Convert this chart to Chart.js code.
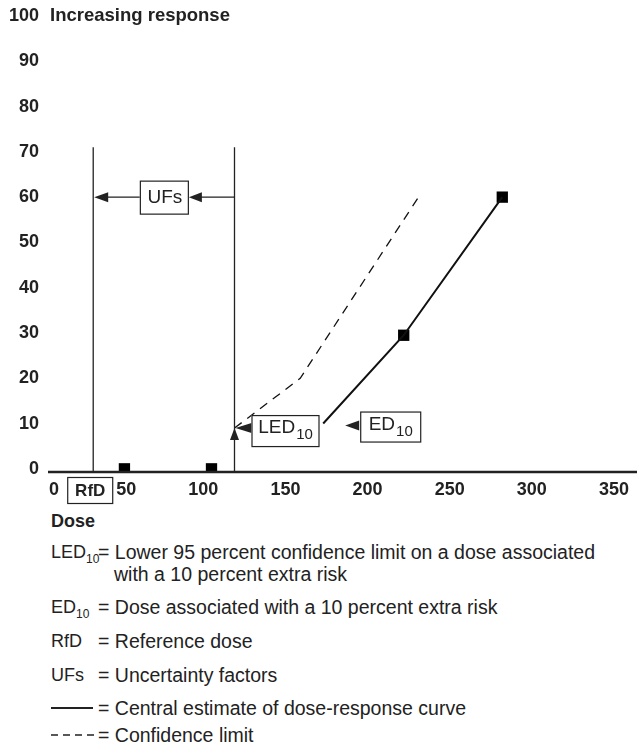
<!DOCTYPE html>
<html>
<head>
<meta charset="utf-8">
<title>Dose-response: RfD derivation</title>
<script src="https://cdn.jsdelivr.net/npm/chart.js"></script>
<style>
  body { margin: 0; background: #fff; }
  #wrap { position: relative; width: 637px; height: 744px; overflow: hidden;
          font-family: "Liberation Sans", Arial, sans-serif; color: #222; }
  #chart { position: absolute; left: 0; top: 0; }
  .dose { position: absolute; left: 51px; top: 510px; font-weight: bold; font-size: 18px; line-height: 22px; }
  .row { position: absolute; left: 51px; font-size: 19.5px; line-height: 22px; white-space: nowrap; }
  .row .term { position: absolute; left: 0; top: 0; font-size: 18px; }
  .row .def { position: absolute; left: 47px; top: 0; padding-left: 16px; text-indent: -16px; }
  .row sub { font-size: 12px; vertical-align: -5px; line-height: 0; }
  .row svg { position: absolute; left: 0; top: 0; }
</style>
</head>
<body>
<div id="wrap">
  <canvas id="chart" width="637" height="510"></canvas>
  <div class="dose">Dose</div>
  <div class="row" style="top:541px"><span class="term">LED<sub>10</sub></span><span class="def">= Lower 95 percent confidence limit on a dose associated<br>with a 10 percent extra risk</span></div>
  <div class="row" style="top:596px"><span class="term">ED<sub>10</sub></span><span class="def">= Dose associated with a 10 percent extra risk</span></div>
  <div class="row" style="top:630px"><span class="term">RfD</span><span class="def">= Reference dose</span></div>
  <div class="row" style="top:664px"><span class="term">UFs</span><span class="def">= Uncertainty factors</span></div>
  <div class="row" style="top:697px"><svg width="44" height="22"><line x1="0" y1="11" x2="42" y2="11" stroke="#222" stroke-width="2"/></svg><span class="def">= Central estimate of dose-response curve</span></div>
  <div class="row" style="top:724px"><svg width="44" height="22"><line x1="0" y1="11" x2="43" y2="11" stroke="#222" stroke-width="1.3" stroke-dasharray="7,5"/></svg><span class="def">= Confidence limit</span></div>
</div>
<script>
// axis ticks
const xTicks = [0, 50, 100, 150, 200, 250, 300, 350];
const yTicks = [0, 10, 20, 30, 40, 50, 60, 70, 80, 90, 100];

// observed data (squares)
const observedDose = [52, 105, 222, 282];
const observedResponse = [0, 0, 29.5, 60];

// central estimate of the dose-response curve
const centralDose = [173, 222, 282];
const centralResponse = [10, 29.5, 60];

// lower confidence limit curve
const limitDose = [119, 159, 231];
const limitResponse = [9, 20, 60];

// reference points
const rfdDose = 33;
const ledDose = 119;
const ledResponse = 9;
const edDose = 173;
const edResponse = 10;
const ufResponse = 60;
const guideTop = 71;

const INK = '#222';
const FONT = '"Liberation Sans", Arial, sans-serif';

function toPoints(xs, ys) {
  return xs.map((x, i) => ({ x: x, y: ys[i] }));
}

function head(ctx, x, y, dir, len, half) {
  ctx.beginPath();
  ctx.moveTo(x, y);
  if (dir === 'left') {
    ctx.lineTo(x + len, y - half);
    ctx.lineTo(x + len, y + half);
  } else {
    ctx.lineTo(x - half, y + len);
    ctx.lineTo(x + half, y + len);
  }
  ctx.closePath();
  ctx.fill();
}

function box(ctx, x, y, w, h) {
  ctx.fillStyle = '#fff';
  ctx.fillRect(x, y, w, h);
  ctx.lineWidth = 1.2;
  ctx.strokeStyle = INK;
  ctx.strokeRect(x + 0.5, y + 0.5, w, h);
  ctx.fillStyle = INK;
}

// text with a subscript, centred on cx, cy
function label(ctx, main, sub, cx, cy, size, weight) {
  ctx.font = (weight || '') + ' ' + size + 'px ' + FONT;
  const w1 = ctx.measureText(main).width;
  let w2 = 0;
  const subSize = Math.round(size * 0.8);
  if (sub) {
    ctx.font = subSize + 'px ' + FONT;
    w2 = ctx.measureText(sub).width;
  }
  const left = cx - (w1 + w2) / 2;
  ctx.textAlign = 'left';
  ctx.textBaseline = 'middle';
  ctx.font = (weight || '') + ' ' + size + 'px ' + FONT;
  ctx.fillText(main, left, cy - (sub ? 2 : 0));
  if (sub) {
    ctx.font = subSize + 'px ' + FONT;
    ctx.fillText(sub, left + w1 + 1, cy + 5);
  }
}

const annotations = {
  id: 'annotations',
  afterDatasetsDraw(chart) {
    const ctx = chart.ctx;
    const xs = chart.scales.x;
    const ys = chart.scales.y;
    const bottom = chart.chartArea.bottom;
    const xR = xs.getPixelForValue(rfdDose);
    const xL = xs.getPixelForValue(ledDose);
    const top = ys.getPixelForValue(guideTop);
    ctx.save();
    ctx.fillStyle = INK;
    ctx.strokeStyle = INK;

    // x axis line
    ctx.lineWidth = 2.5;
    ctx.beginPath();
    ctx.moveTo(chart.chartArea.left + 9, bottom);
    ctx.lineTo(chart.chartArea.right, bottom);
    ctx.stroke();

    // vertical guides at RfD and LED10
    ctx.lineWidth = 1.3;
    [xR, xL].forEach(x => {
      ctx.beginPath();
      ctx.moveTo(x, top);
      ctx.lineTo(x, bottom);
      ctx.stroke();
    });

    // UFs arrows and box
    const yU = ys.getPixelForValue(ufResponse);
    const cU = (xR + xL) / 2;
    const bw = 48, bh = 33;
    ctx.beginPath();
    ctx.moveTo(xL, yU); ctx.lineTo(cU + bw / 2 + 10, yU);
    ctx.moveTo(cU - bw / 2, yU); ctx.lineTo(xR + 10, yU);
    ctx.stroke();
    head(ctx, cU + bw / 2 + 1, yU, 'left', 13, 5);
    head(ctx, xR + 1, yU, 'left', 14, 5);
    box(ctx, cU - bw / 2, yU - bh / 2, bw, bh);
    label(ctx, 'UFs', null, cU + 1, yU + 1, 19);

    // LED10 arrows and box
    const yL = ys.getPixelForValue(ledResponse);
    head(ctx, xL, yL, 'up', 12, 4.5);
    head(ctx, xL + 1, yL, 'left', 16, 5);
    box(ctx, xL + 17, yL - 13, 67, 31);
    label(ctx, 'LED', '10', xL + 17 + 33.5, yL + 2, 19);

    // ED10 arrowhead and box
    const xE = xs.getPixelForValue(edDose);
    const yE = ys.getPixelForValue(edResponse);
    head(ctx, xE + 22, yE + 2, 'left', 14, 5);
    box(ctx, xE + 37, yE - 12, 60, 30);
    label(ctx, 'ED', '10', xE + 37 + 30, yE + 3, 19);

    // RfD box under the axis
    box(ctx, xR - 26, bottom + 5, 45, 26);
    label(ctx, 'RfD', null, xR - 3, bottom + 19, 17, 'bold');

    // y axis caption next to the 100 tick
    ctx.font = 'bold 18.5px ' + FONT;
    ctx.textAlign = 'left';
    ctx.textBaseline = 'middle';
    ctx.fillText('Increasing response', 50, ys.getPixelForValue(100));
    ctx.restore();
  }
};

const tickFont = { family: FONT, size: 18, weight: 'bold' };

// the original nudges the first two dose labels to the right
const xLabel = v => (v === 0 ? '      0' : v === 50 ? '  50' : String(v));

new Chart(document.getElementById('chart'), {
  type: 'scatter',
  data: {
    datasets: [
      {
        label: 'Central estimate',
        data: toPoints(centralDose, centralResponse),
        showLine: true,
        borderColor: '#111',
        borderWidth: 2,
        pointRadius: 0
      },
      {
        label: 'Confidence limit',
        data: toPoints(limitDose, limitResponse),
        showLine: true,
        borderColor: '#111',
        borderWidth: 1.3,
        borderDash: [9, 7],
        pointRadius: 0
      },
      {
        label: 'Observed',
        data: toPoints(observedDose, observedResponse),
        showLine: false,
        pointStyle: 'rect',
        pointRadius: 8,
        backgroundColor: '#000',
        borderColor: '#000',
        borderWidth: 0
      }
    ]
  },
  options: {
    responsive: false,
    animation: false,
    devicePixelRatio: 1,
    layout: { autoPadding: false, padding: { top: 16, left: 0, right: 0, bottom: 0 } },
    plugins: { legend: { display: false }, tooltip: { enabled: false } },
    scales: {
      x: {
        type: 'linear',
        min: 0,
        max: 364,
        grid: { display: false, drawTicks: false },
        border: { display: false },
        afterBuildTicks: s => { s.ticks = xTicks.map(v => ({ value: v })); },
        afterFit: s => { s.height = 38; s.paddingLeft = 0; s.paddingRight = 0; },
        ticks: {
          font: tickFont,
          color: INK,
          padding: 7,
          maxRotation: 0,
          autoSkip: false,
          callback: xLabel
        }
      },
      y: {
        min: -0.7,
        max: 100,
        grid: { display: false, drawTicks: false },
        border: { display: false },
        afterBuildTicks: s => { s.ticks = yTicks.map(v => ({ value: v })); },
        afterFit: s => { s.width = 39; },
        ticks: {
          font: tickFont,
          color: INK,
          padding: 0,
          autoSkip: false
        }
      }
    }
  },
  plugins: [annotations]
});
</script>
</body>
</html>
